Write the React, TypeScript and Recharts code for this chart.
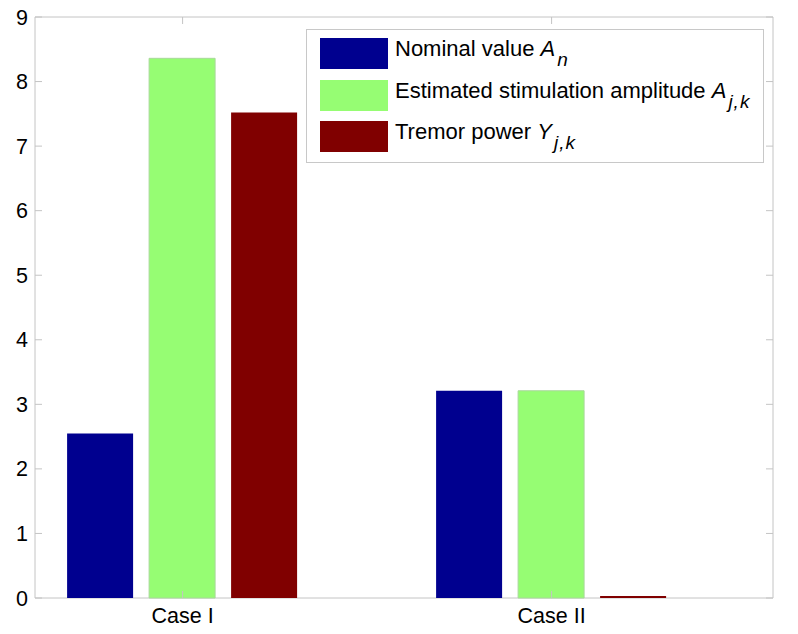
import React from "react";
import { BarChart, Bar, XAxis, YAxis, ReferenceArea, Legend } from "recharts";

const categories = ["Case I", "Case II"];
const nominalValue = [2.55, 3.21];
const estimatedAmplitude = [8.36, 3.21];
const tremorPower = [7.52, 0.03];
const yTicks = [0, 1, 2, 3, 4, 5, 6, 7, 8, 9];
const xPositions = [1, 2];

const data = categories.map((c, i) => ({
  x: xPositions[i],
  name: c,
  nominal: nominalValue[i],
  estimated: estimatedAmplitude[i],
  tremor: tremorPower[i],
}));

const FONT = "'Liberation Sans', Arial, sans-serif";
const AXIS_COLOR = "#c4c4c4";
const PLOT_LEFT = 35;
const PLOT_RIGHT = 773;
const PLOT_TOP = 17;
const PLOT_BOTTOM = 598;
const TICK_LEN = 7;

const YTick = (props: any) => {
  const { y, payload } = props;
  return (
    <g>
      <line x1={PLOT_LEFT} x2={PLOT_LEFT + TICK_LEN} y1={y} y2={y} stroke={AXIS_COLOR} />
      <line x1={PLOT_RIGHT} x2={PLOT_RIGHT - TICK_LEN} y1={y} y2={y} stroke={AXIS_COLOR} />
      <text x={PLOT_LEFT - 7} y={y} dy={7.5} textAnchor="end" fontSize={21.5} fontFamily={FONT} fill="#000">
        {payload.value}
      </text>
    </g>
  );
};

const XTick = (props: any) => {
  const { x, payload } = props;
  const idx = xPositions.indexOf(payload.value);
  return (
    <g>
      <line x1={x} x2={x} y1={PLOT_BOTTOM} y2={PLOT_BOTTOM - TICK_LEN} stroke={AXIS_COLOR} />
      <line x1={x} x2={x} y1={PLOT_TOP} y2={PLOT_TOP + TICK_LEN} stroke={AXIS_COLOR} />
      <text x={x} y={PLOT_BOTTOM + 24.5} textAnchor="middle" fontSize={21.5} fontFamily={FONT} fill="#000">
        {idx >= 0 ? categories[idx] : ""}
      </text>
    </g>
  );
};

const legendItems = [
  { color: "#00008f", label: "Nominal value ", sym: "A", sub: "n" },
  { color: "#96fd73", label: "Estimated stimulation amplitude ", sym: "A", sub: "j,k" },
  { color: "#800000", label: "Tremor power ", sym: "Y", sub: "j,k" },
];

const LegendBox = () => (
  <div
    style={{
      position: "relative",
      width: 458,
      height: 134,
      boxSizing: "border-box",
      border: "1px solid #c8c8c8",
      background: "#fff",
      fontFamily: FONT,
      fontSize: 22,
      color: "#000",
    }}
  >
    {legendItems.map((it, i) => (
      <div
        key={i}
        style={{
          position: "absolute",
          left: 13,
          top: 8 + i * 41.5,
          height: 31,
          display: "flex",
          alignItems: "center",
          whiteSpace: "nowrap",
        }}
      >
        <div style={{ width: 68, height: 31, background: it.color, marginRight: 7 }} />
        <span>
          {it.label}
          <i>{it.sym}</i>
          <sub style={{ fontSize: 19, fontStyle: "italic", verticalAlign: "-10px", marginLeft: 2, letterSpacing: 1 }}>
            {it.sub}
          </sub>
        </span>
      </div>
    ))}
  </div>
);

export default function App() {
  return (
    <div style={{ position: "absolute", left: 0, top: 0, background: "#fff" }}>
      <BarChart
        width={798}
        height={634}
        data={data}
        margin={{ top: PLOT_TOP, right: 798 - PLOT_RIGHT, left: 0, bottom: 0 }}
        barGap={16}
      >
        <XAxis
          dataKey="x"
          type="number"
          domain={[0.6, 2.6]}
          ticks={xPositions}
          allowDataOverflow
          axisLine={false}
          tickLine={false}
          tick={<XTick />}
          height={634 - PLOT_BOTTOM}
        />
        <YAxis
          domain={[0, 9]}
          ticks={yTicks}
          axisLine={false}
          tickLine={false}
          tick={<YTick />}
          width={PLOT_LEFT}
          interval={0}
        />
        <ReferenceArea x1={0.6} x2={2.6} y1={0} y2={9} fill="none" stroke={AXIS_COLOR} strokeWidth={1} ifOverflow="visible" />
        <Legend
          layout="vertical"
          align="center"
          verticalAlign="middle"
          content={() => <LegendBox />}
          wrapperStyle={{ position: "absolute", left: 306, top: 29, width: 458, height: 134 }}
        />
        <Bar dataKey="nominal" fill="#00008f" barSize={66} isAnimationActive={false} />
        <Bar dataKey="estimated" fill="#96fd73" stroke="#a8d89a" barSize={66} isAnimationActive={false} />
        <Bar dataKey="tremor" fill="#800000" barSize={66} isAnimationActive={false} />
      </BarChart>
    </div>
  );
}
